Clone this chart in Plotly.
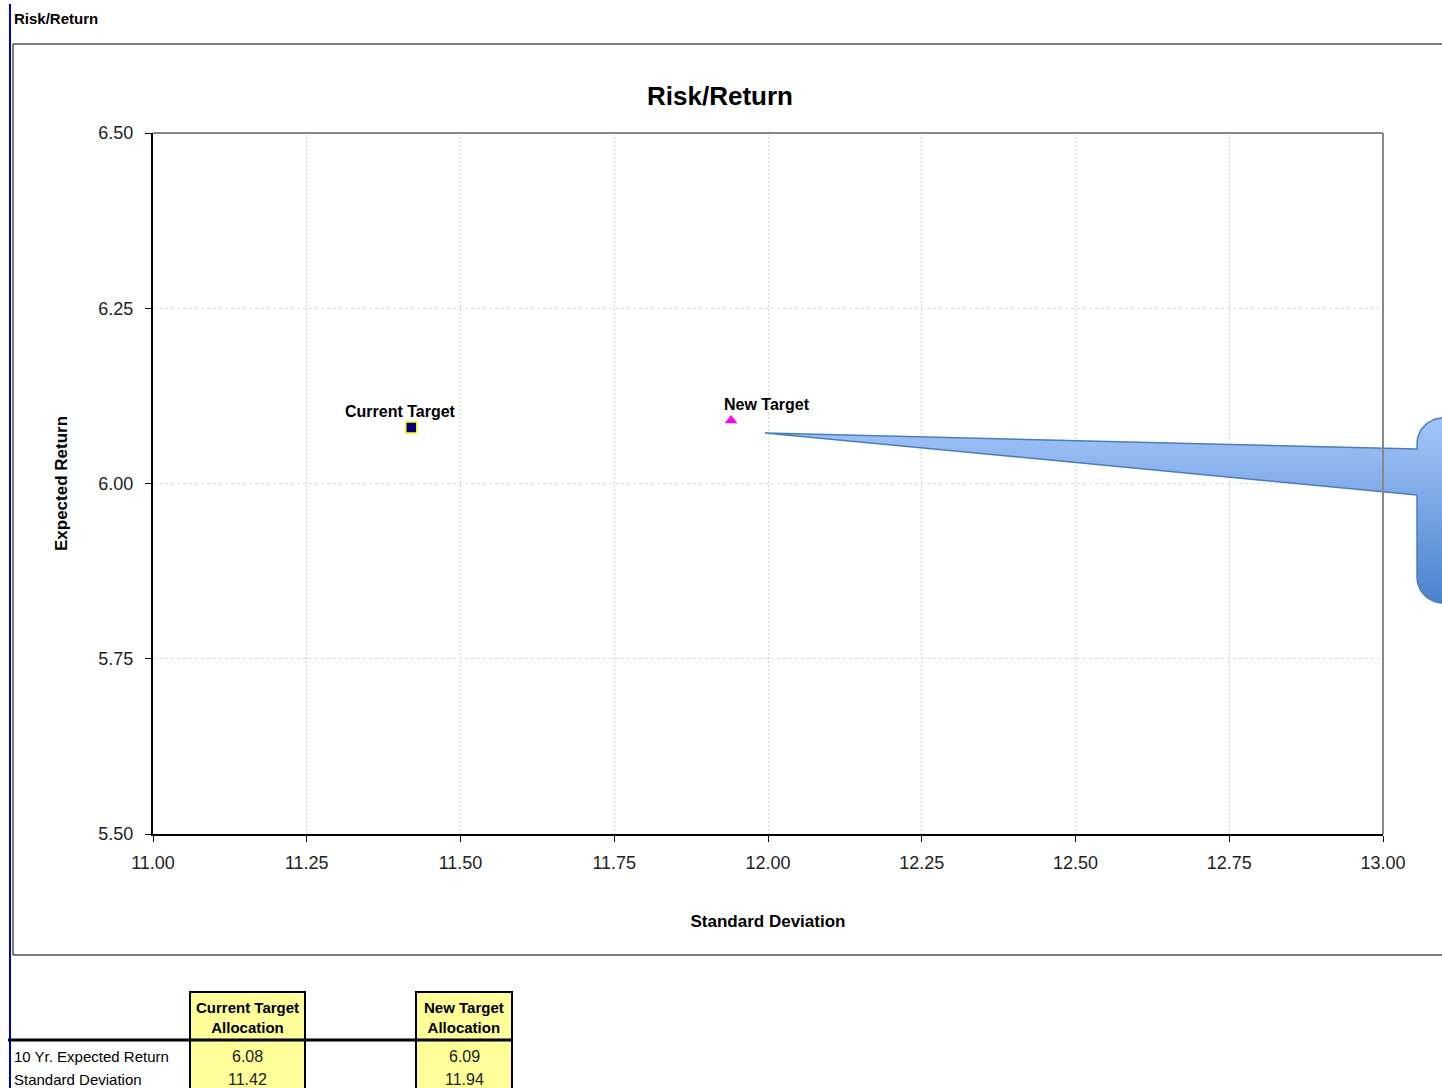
import numpy as np
import plotly.graph_objects as go

# ---- data ----
portfolios = ["Current Target", "New Target"]
std_dev = [11.42, 11.94]
exp_return = [6.08, 6.09]
table_headers = ["Current Target<br>Allocation", "New Target<br>Allocation"]
table_rows = ["10 Yr. Expected Return", "Standard Deviation"]
x_ticks = [11.00, 11.25, 11.50, 11.75, 12.00, 12.25, 12.50, 12.75, 13.00]
y_ticks = [5.50, 5.75, 6.00, 6.25, 6.50]

W, H = 1442, 1088
SANS = "Liberation Sans, Arial, sans-serif"


def px(x):
    return x / W


def py(y):
    return 1 - y / H


fig = go.Figure()

# plot markers
fig.add_trace(go.Scatter(
    x=[std_dev[0]], y=[exp_return[0]], mode="markers",
    marker=dict(symbol="square", size=11, color="#000080",
                line=dict(color="#ffff00", width=1.5)),
    showlegend=False, xaxis="x", yaxis="y", hoverinfo="x+y"))
fig.add_trace(go.Scatter(
    x=[std_dev[1]], y=[exp_return[1]], mode="markers",
    marker=dict(symbol="triangle-up", size=11, color="#ff00ff",
                line=dict(width=0)),
    showlegend=False, xaxis="x", yaxis="y", hoverinfo="x+y"))

# callout balloon, drawn on a full-page pixel subplot
r = 26
x0, x1, y0, y1 = 1417, 1500, 418, 603
pts = [(x0, 495), (765, 433), (x0, 449)]
ang = np.linspace(np.pi, 1.5 * np.pi, 14)
pts += [(x0 + r + r * np.cos(a), y0 + r + r * np.sin(a)) for a in ang]
pts += [(x1, y0), (x1, y1)]
ang = np.linspace(0.5 * np.pi, np.pi, 14)
pts += [(x0 + r + r * np.cos(a), y1 - r + r * np.sin(a)) for a in ang]
pts.append((x0, 495))
fig.add_trace(go.Scatter(
    x=[p[0] for p in pts], y=[p[1] for p in pts], mode="lines", fill="toself",
    line=dict(color="#4a7ebb", width=1.5),
    fillgradient=dict(type="vertical", start=418, stop=603,
                      colorscale=[[0, "#a4c6fa"], [1, "#4a82cc"]]),
    hoverinfo="skip", showlegend=False, xaxis="x2", yaxis="y2"))

fig.update_layout(
    width=W, height=H,
    margin=dict(l=0, r=0, t=0, b=0, autoexpand=False),
    paper_bgcolor="white", plot_bgcolor="rgba(0,0,0,0)",
    xaxis=dict(
        domain=[px(153), px(1383)], range=[11.0, 13.0], automargin=False,
        tickvals=x_ticks, tickformat=".2f",
        showgrid=True, gridcolor="#d2d2d2", griddash="2px,2px", gridwidth=1,
        showline=True, linecolor="black", linewidth=2,
        ticks="outside", ticklen=6, tickcolor="black", tickwidth=1,
        ticklabelstandoff=5,
        tickfont=dict(family=SANS, size=18, color="#222"),
        zeroline=False,
        title=dict(text="<b>Standard Deviation</b>",
                   font=dict(family=SANS, size=17, color="black"),
                   standoff=44),
    ),
    yaxis=dict(
        domain=[py(834), py(133)], range=[5.5, 6.5], automargin=False,
        tickvals=y_ticks, tickformat=".2f",
        showgrid=True, gridcolor="#dadada", griddash="3px,3px", gridwidth=1,
        showline=True, linecolor="black", linewidth=2,
        ticks="outside", ticklen=6, tickcolor="black", tickwidth=1,
        ticklabelstandoff=8,
        tickfont=dict(family=SANS, size=18, color="#222"),
        zeroline=False,
        title=dict(text="<b>Expected Return</b>",
                   font=dict(family=SANS, size=17, color="black"),
                   standoff=26),
    ),
    xaxis2=dict(domain=[0, 1], range=[0, W], visible=False, anchor="y2",
                automargin=False, fixedrange=True),
    yaxis2=dict(domain=[0, 1], range=[H, 0], visible=False, anchor="x2",
                automargin=False, fixedrange=True),
)

shapes = []
# page marker line and chart frame
shapes.append(dict(type="line", xref="paper", yref="paper",
                   x0=px(10), x1=px(10), y0=0, y1=py(4),
                   line=dict(color="#0000cc", width=2)))
shapes.append(dict(type="rect", xref="paper", yref="paper",
                   x0=px(13), x1=px(1460), y0=py(955), y1=py(44),
                   line=dict(color="black", width=1)))
# top and right plot border
shapes.append(dict(type="line", xref="paper", yref="paper",
                   x0=px(153), x1=px(1383), y0=py(133), y1=py(133),
                   line=dict(color="#888", width=2)))
shapes.append(dict(type="line", xref="paper", yref="paper",
                   x0=px(1383), x1=px(1383), y0=py(133), y1=py(834),
                   line=dict(color="#888", width=2)))

# summary table cells
col_x = [(190, 305), (416, 512)]
for (a, b) in col_x:
    shapes.append(dict(type="rect", xref="paper", yref="paper",
                       x0=px(a), x1=px(b), y0=py(1040), y1=py(992),
                       fillcolor="#ffff99", line=dict(color="black", width=2),
                       layer="below"))
    shapes.append(dict(type="rect", xref="paper", yref="paper",
                       x0=px(a), x1=px(b), y0=py(1094), y1=py(1040),
                       fillcolor="#ffff99", line=dict(color="black", width=2),
                       layer="below"))
shapes.append(dict(type="line", xref="paper", yref="paper",
                   x0=px(8), x1=px(512), y0=py(1040), y1=py(1040),
                   line=dict(color="black", width=3)))
fig.update_layout(shapes=shapes)

ann = []
ann.append(dict(text="<b>Risk/Return</b>", xref="paper", yref="paper",
                x=px(12), y=py(18), xanchor="left", yanchor="middle",
                showarrow=False, font=dict(family=SANS, size=15, color="black")))
ann.append(dict(text="<b>Risk/Return</b>", xref="paper", yref="paper",
                x=px(720), y=py(96), xanchor="center", yanchor="middle",
                showarrow=False, font=dict(family=SANS, size=26, color="black")))
# point labels
label_dx = [-11, 36]
label_dy = [16, 16]
for name, sx, ry, dx, dy in zip(portfolios, std_dev, exp_return, label_dx, label_dy):
    ann.append(dict(text="<b>" + name + "</b>", x=sx, y=ry, xref="x", yref="y",
                    xanchor="center", yanchor="middle", xshift=dx, yshift=dy,
                    showarrow=False,
                    font=dict(family=SANS, size=16, color="black")))
# table text
for (a, b), hdr in zip(col_x, table_headers):
    ann.append(dict(text="<b>" + hdr + "</b>", xref="paper", yref="paper",
                    x=px((a + b) / 2), y=py(1017), xanchor="center", yanchor="middle",
                    showarrow=False,
                    font=dict(family=SANS, size=15, color="black")))
values = [exp_return, std_dev]
row_y = [1056, 1079]
for lbl, yy, vals in zip(table_rows, row_y, values):
    ann.append(dict(text=lbl, xref="paper", yref="paper",
                    x=px(12), y=py(yy), xanchor="left", yanchor="middle",
                    showarrow=False, font=dict(family=SANS, size=15, color="black")))
    for (a, b), v in zip(col_x, vals):
        ann.append(dict(text=f"{v:.2f}", xref="paper", yref="paper",
                        x=px((a + b) / 2), y=py(yy), xanchor="center", yanchor="middle",
                        showarrow=False,
                        font=dict(family=SANS, size=16, color="#222")))
fig.update_layout(annotations=ann)

fig.write_html("out.html")
